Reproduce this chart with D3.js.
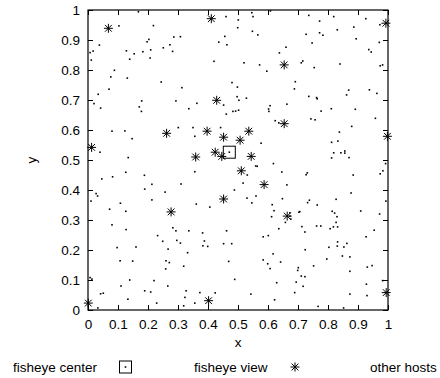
<!DOCTYPE html>
<html>
<head>
<meta charset="utf-8">
<script src="https://cdn.jsdelivr.net/npm/d3@7/dist/d3.min.js"></script>
<style>
  html, body { margin: 0; padding: 0; background: #fff; }
  svg { display: block; }
  text { font-family: "Liberation Sans", Arial, Helvetica, sans-serif; fill: #000; }
</style>
</head>
<body>
<svg id="chart" width="440" height="378"></svg>
<script>
// Axis ticks
const xTickValues = [0, 0.1, 0.2, 0.3, 0.4, 0.5, 0.6, 0.7, 0.8, 0.9, 1];
const xTickLabels = ["0", "0.1", "0.2", "0.3", "0.4", "0.5", "0.6", "0.7", "0.8", "0.9", "1"];
const yTickValues = [0, 0.1, 0.2, 0.3, 0.4, 0.5, 0.6, 0.7, 0.8, 0.9, 1];
const yTickLabels = ["0", "0.1", "0.2", "0.3", "0.4", "0.5", "0.6", "0.7", "0.8", "0.9", "1"];

// Legend entries
const seriesNames = ["fisheye center", "fisheye view", "other hosts"];

// Node of the fisheye center
const fisheyeCenter = [[0.471, 0.526]];

// Nodes shown in the fisheye view
const fisheyeView = [
  [0.068, 0.939], [0.411, 0.971], [0.993, 0.956], [0.654, 0.817], [0.429, 0.699],
  [0.262, 0.589], [0.012, 0.542], [0.654, 0.621], [0.397, 0.596], [0.536, 0.596],
  [0.452, 0.576], [0.507, 0.566], [0.424, 0.526], [0.446, 0.512], [0.359, 0.510],
  [0.544, 0.512], [0.511, 0.464], [0.587, 0.418], [0.452, 0.370], [0.998, 0.579],
  [0.277, 0.327], [0.664, 0.313], [0.402, 0.031], [0.001, 0.023], [0.994, 0.058]
];

// All remaining hosts
const otherHosts = [
  [0.168, 0.994], [0.103, 0.947], [0.218, 0.948], [0.286, 0.910], [0.308, 0.911],
  [0.203, 0.902], [0.197, 0.894], [0.038, 0.883], [0.273, 0.884], [0.251, 0.874],
  [0.282, 0.862], [0.017, 0.863], [0.007, 0.858], [0.128, 0.864], [0.209, 0.867],
  [0.183, 0.861], [0.154, 0.854], [0.139, 0.836], [0.207, 0.840], [0.011, 0.833],
  [0.088, 0.799], [0.076, 0.777], [0.131, 0.773], [0.244, 0.760], [0.313, 0.741],
  [0.070, 0.736], [0.034, 0.719], [0.179, 0.697], [0.293, 0.697], [0.020, 0.688],
  [0.042, 0.673], [0.171, 0.677], [0.336, 0.671],
  [0.546, 0.991], [0.550, 0.978], [0.608, 0.997], [0.460, 0.978], [0.501, 0.967],
  [0.499, 0.941], [0.548, 0.929], [0.566, 0.917], [0.456, 0.912], [0.436, 0.893],
  [0.463, 0.884], [0.660, 0.876], [0.638, 0.857], [0.420, 0.829], [0.520, 0.824],
  [0.572, 0.817], [0.596, 0.796], [0.480, 0.758], [0.498, 0.743], [0.497, 0.711],
  [0.503, 0.699], [0.528, 0.706], [0.363, 0.689], [0.452, 0.683], [0.607, 0.681],
  [0.663, 0.686], [0.602, 0.670],
  [0.736, 0.982], [0.772, 0.963], [0.819, 0.978], [0.926, 0.971], [0.886, 0.943],
  [0.973, 0.951], [0.831, 0.934], [0.727, 0.919], [0.772, 0.924], [0.783, 0.916],
  [0.894, 0.904], [0.747, 0.890], [0.971, 0.892], [0.936, 0.868], [0.944, 0.860],
  [0.716, 0.830], [0.711, 0.824], [0.840, 0.820], [0.754, 0.808], [0.974, 0.814],
  [0.982, 0.817], [0.691, 0.761], [0.688, 0.737], [0.869, 0.733], [0.862, 0.717],
  [0.938, 0.734], [0.963, 0.722], [0.736, 0.712], [0.762, 0.708], [0.764, 0.704],
  [0.811, 0.671], [0.891, 0.669],
  [0.178, 0.662], [0.080, 0.596], [0.123, 0.597], [0.301, 0.608], [0.147, 0.571],
  [0.040, 0.526], [0.134, 0.508], [0.126, 0.459], [0.188, 0.449], [0.082, 0.444],
  [0.046, 0.437], [0.213, 0.419], [0.310, 0.420], [0.189, 0.403], [0.257, 0.393],
  [0.027, 0.388], [0.032, 0.380], [0.213, 0.367], [0.010, 0.363], [0.108, 0.356],
  [0.072, 0.336], [0.126, 0.329],
  [0.461, 0.653], [0.483, 0.662], [0.492, 0.663], [0.502, 0.666], [0.603, 0.662],
  [0.624, 0.631], [0.636, 0.624], [0.350, 0.608], [0.442, 0.608], [0.356, 0.579],
  [0.577, 0.556], [0.559, 0.480], [0.564, 0.479], [0.618, 0.488], [0.356, 0.461],
  [0.646, 0.460], [0.531, 0.450], [0.517, 0.423], [0.663, 0.417], [0.488, 0.400],
  [0.560, 0.380], [0.530, 0.373], [0.648, 0.371], [0.546, 0.357], [0.614, 0.351],
  [0.361, 0.353], [0.406, 0.343], [0.620, 0.331],
  [0.777, 0.663], [0.743, 0.637], [0.757, 0.634], [0.958, 0.639], [0.879, 0.612],
  [0.838, 0.593], [0.812, 0.559], [0.833, 0.563], [0.819, 0.524], [0.843, 0.524],
  [0.856, 0.530], [0.856, 0.523], [0.812, 0.507], [0.870, 0.508], [0.992, 0.488],
  [0.983, 0.464], [0.974, 0.454], [0.731, 0.457], [0.727, 0.451], [0.884, 0.450],
  [0.877, 0.390], [0.827, 0.369], [0.738, 0.366], [0.732, 0.358], [0.764, 0.350],
  [0.993, 0.363], [0.814, 0.329], [0.909, 0.330], [0.706, 0.328],
  [0.080, 0.284], [0.127, 0.268], [0.232, 0.248], [0.249, 0.229], [0.283, 0.274],
  [0.293, 0.264], [0.336, 0.264], [0.296, 0.232], [0.308, 0.223], [0.097, 0.208],
  [0.160, 0.210], [0.267, 0.203], [0.332, 0.191], [0.107, 0.164], [0.149, 0.163],
  [0.260, 0.164], [0.271, 0.158], [0.319, 0.146], [0.259, 0.137], [0.013, 0.103],
  [0.007, 0.108], [0.139, 0.100], [0.220, 0.098], [0.110, 0.080], [0.266, 0.080],
  [0.189, 0.064], [0.209, 0.060], [0.327, 0.064], [0.042, 0.054], [0.051, 0.056],
  [0.323, 0.042], [0.133, 0.036], [0.229, 0.023], [0.319, 0.014], [0.033, 0.007],
  [0.382, 0.257], [0.462, 0.264], [0.388, 0.230], [0.383, 0.214], [0.399, 0.212],
  [0.452, 0.221], [0.479, 0.221], [0.584, 0.244], [0.601, 0.248], [0.636, 0.271],
  [0.612, 0.311], [0.658, 0.292], [0.469, 0.162], [0.617, 0.187], [0.584, 0.167],
  [0.599, 0.154], [0.642, 0.160], [0.607, 0.138], [0.489, 0.102], [0.629, 0.091],
  [0.373, 0.058], [0.424, 0.057], [0.543, 0.053], [0.356, 0.023], [0.622, 0.034],
  [0.673, 0.324], [0.673, 0.313], [0.676, 0.303], [0.703, 0.326], [0.822, 0.323],
  [0.830, 0.311], [0.972, 0.320], [0.827, 0.292], [0.713, 0.278], [0.723, 0.260],
  [0.762, 0.280], [0.776, 0.280], [0.807, 0.271], [0.818, 0.277], [0.832, 0.277],
  [0.954, 0.266], [0.927, 0.244], [0.832, 0.227], [0.831, 0.213], [0.863, 0.222],
  [0.853, 0.210], [0.803, 0.209], [0.724, 0.201], [0.848, 0.180], [0.873, 0.177],
  [0.796, 0.170], [0.752, 0.147], [0.931, 0.143], [0.947, 0.148], [0.701, 0.141],
  [0.699, 0.132], [0.873, 0.129], [0.711, 0.113], [0.723, 0.111], [0.982, 0.098],
  [0.694, 0.093], [0.928, 0.086], [0.717, 0.079], [0.689, 0.058], [0.873, 0.053],
  [0.930, 0.048], [0.767, 0.012], [0.852, 0.007]
];

const svg = d3.select("#chart");
const plot = { left: 88, right: 388, top: 10, bottom: 310 };
const fontSize = 13.5;

const x = d3.scaleLinear().domain([0, 1]).range([plot.left, plot.right]);
const y = d3.scaleLinear().domain([0, 1]).range([plot.bottom, plot.top]);

const tickLen = 5;

// Bottom and left axes with inward ticks
const gx = svg.append("g")
  .attr("transform", `translate(0,${plot.bottom})`)
  .call(d3.axisBottom(x).tickValues(xTickValues)
    .tickFormat((d, i) => xTickLabels[i])
    .tickSize(-tickLen).tickPadding(9));
const gy = svg.append("g")
  .attr("transform", `translate(${plot.left},0)`)
  .call(d3.axisLeft(y).tickValues(yTickValues)
    .tickFormat((d, i) => yTickLabels[i])
    .tickSize(-tickLen).tickPadding(8));
// Mirrored ticks on top and right
const gt = svg.append("g")
  .attr("transform", `translate(0,${plot.top})`)
  .call(d3.axisTop(x).tickValues(xTickValues).tickFormat("").tickSize(-tickLen));
const gr = svg.append("g")
  .attr("transform", `translate(${plot.right},0)`)
  .call(d3.axisRight(y).tickValues(yTickValues).tickFormat("").tickSize(-tickLen));

[gx, gy, gt, gr].forEach(g => {
  g.select(".domain").remove();
  g.selectAll(".tick line").attr("stroke", "#000").attr("stroke-width", 1);
  g.selectAll(".tick text")
    .style("font-family", '"Liberation Sans", Arial, sans-serif')
    .attr("font-size", fontSize).attr("fill", "#000");
});

// Plot border
svg.append("rect")
  .attr("x", plot.left).attr("y", plot.top)
  .attr("width", plot.right - plot.left).attr("height", plot.bottom - plot.top)
  .attr("fill", "none").attr("stroke", "#000").attr("stroke-width", 1.2);

// Axis titles
svg.append("text")
  .attr("x", (plot.left + plot.right) / 2).attr("y", 347)
  .attr("text-anchor", "middle").attr("font-size", fontSize).text("x");
svg.append("text")
  .attr("transform", `translate(36,${(plot.top + plot.bottom) / 2}) rotate(-90)`)
  .attr("text-anchor", "middle").attr("font-size", fontSize).text("y");

// Marker shapes
const starPath = r => {
  const d = r * 0.75;
  return `M${-r},0H${r}M0,${-r}V${r}M${-d},${-d}L${d},${d}M${-d},${d}L${d},${-d}`;
};
const half = 6;
function drawCenter(sel) {
  sel.append("rect")
    .attr("x", -half).attr("y", -half).attr("width", 2 * half).attr("height", 2 * half)
    .attr("fill", "none").attr("stroke", "#000").attr("stroke-width", 1);
  sel.append("rect")
    .attr("x", -0.8).attr("y", -0.8).attr("width", 1.6).attr("height", 1.6)
    .attr("fill", "#000");
}

// Other hosts: small dots
svg.append("g").selectAll("rect")
  .data(otherHosts).join("rect")
  .attr("x", d => x(d[0]) - 0.8).attr("y", d => y(d[1]) - 0.8)
  .attr("width", 1.6).attr("height", 1.6).attr("fill", "#000");

// Fisheye view: asterisks
svg.append("g").selectAll("path")
  .data(fisheyeView).join("path")
  .attr("transform", d => `translate(${x(d[0])},${y(d[1])})`)
  .attr("d", starPath(4.5))
  .attr("stroke", "#000").attr("stroke-width", 1).attr("fill", "none");

// Fisheye center: boxed point
svg.append("g").selectAll("g")
  .data(fisheyeCenter).join("g")
  .attr("transform", d => `translate(${x(d[0])},${y(d[1])})`)
  .each(function () { drawCenter(d3.select(this)); });

// Legend
const legendY = 367;
const legend = svg.append("g").attr("font-size", fontSize);
legend.append("text").attr("x", 13).attr("y", legendY).attr("dy", "0.35em").text(seriesNames[0]);
drawCenter(legend.append("g").attr("transform", `translate(125.5,${legendY})`));
legend.append("text").attr("x", 194).attr("y", legendY).attr("dy", "0.35em").text(seriesNames[1]);
legend.append("path").attr("transform", `translate(295,${legendY})`)
  .attr("d", starPath(4.5)).attr("stroke", "#000").attr("fill", "none");
legend.append("text").attr("x", 370).attr("y", legendY).attr("dy", "0.35em").text(seriesNames[2]);
</script>
</body>
</html>
